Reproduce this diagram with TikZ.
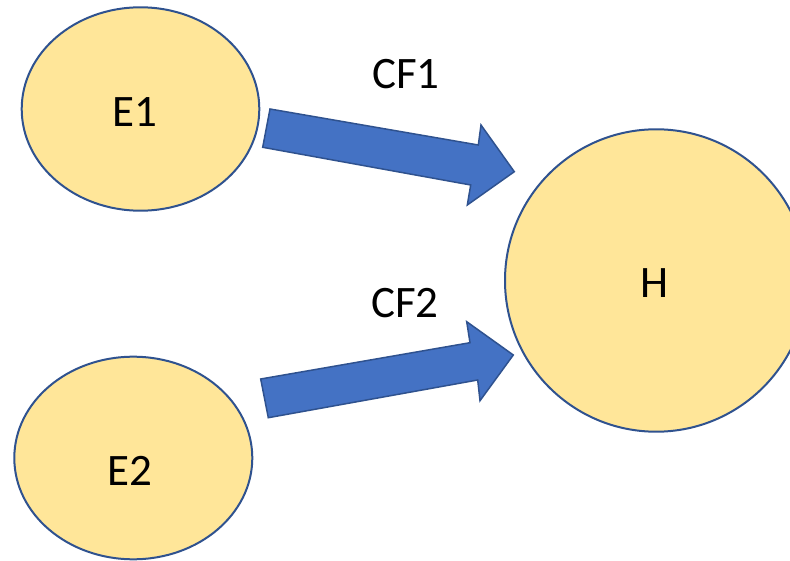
\documentclass[tikz,border=0pt]{standalone}
\usepackage{fontspec}
\setmainfont{Carlito}
\usetikzlibrary{shapes.geometric}
\definecolor{nodefill}{HTML}{FFE699}
\definecolor{nodeline}{HTML}{2F528F}
\definecolor{arrowfill}{HTML}{4472C4}
\begin{document}
\begin{tikzpicture}[x=1pt,y=-1pt,
  blob/.style={ellipse,draw=nodeline,fill=nodefill,line width=2pt,inner sep=0pt},
  lbl/.style={inner sep=0pt,font=\fontsize{45}{54}\selectfont,text=black},
  blockarrow/.style={draw=nodeline,fill=arrowfill,line width=1.5pt,line join=miter}]
\useasboundingbox (0,0) rectangle (790,561);
\clip (0,0) rectangle (790,561);
\node[blob,minimum width=237.6pt,minimum height=203.4pt] (E1) at (140.5,109) {};
\node[blob,minimum width=238pt,minimum height=202.6pt] (E2) at (133.3,458) {};
\node[blob,minimum width=302.4pt,minimum height=302.4pt] (H) at (656.2,280.5) {};
\node[lbl] (tE1) at (134.5,112) {E1};
\node[lbl] (tE2) at (130,471) {E2};
\node[lbl] (tH) at (654.5,283) {H};
\node[lbl] (tCF1) at (406,74) {CF1};
\node[lbl] (tCF2) at (405,303.5) {CF2};
\draw[blockarrow] (270,109) -- (478.3,145) -- (481,125) -- (514.3,171.7) -- (467.3,205) -- (470.7,185) -- (262.7,147.3) -- cycle;
\draw[blockarrow] (260.7,379) -- (470,342.7) -- (466.7,321.7) -- (513.3,355) -- (480,400.7) -- (477.7,380) -- (268.3,417.7) -- cycle;
\end{tikzpicture}
\end{document}
